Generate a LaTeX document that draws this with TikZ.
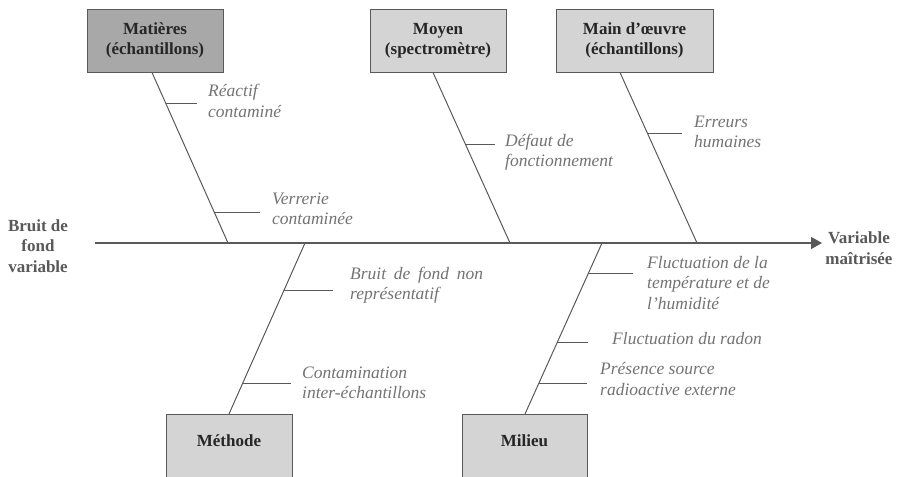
\documentclass[tikz,border=0pt]{standalone}
\usepackage{fontspec}
\setmainfont{Liberation Serif}
\usepackage{tikz}
\usetikzlibrary{arrows.meta, calc}

\definecolor{trait}{HTML}{595959}
\definecolor{gristexte}{HTML}{737373}
\definecolor{grisfonce}{HTML}{A8A8A8}
\definecolor{grisclair}{HTML}{D4D4D4}

\begin{document}
\begin{tikzpicture}[x=1pt, y=-1pt,
    cause/.style={draw=trait, line width=0.9pt, fill=grisclair, minimum width=136pt, minimum height=63pt,
        font=\fontsize{17}{20.5}\selectfont\bfseries, text=black!85, align=center, inner sep=2pt},
    titre/.style={font=\fontsize{17}{20.5}\selectfont\bfseries, text=black!85},
    bout/.style={font=\fontsize{17}{20.5}\selectfont\bfseries, text=black!65, align=center},
    arete/.style={draw=trait, line width=1pt},
    spine/.style={draw=trait, line width=1.5pt},
    lbl/.style={font=\fontsize{17.5}{20.5}\selectfont\itshape, text=gristexte, align=left, anchor=west, inner sep=0pt}]
\useasboundingbox (0,0) rectangle (898,477);
\clip (0,0) rectangle (898,477);

% les cinq familles
\node[cause, fill=grisfonce] (mat) at (155,40.5) {Matières\\(échantillons)};
\node[cause] (moy) at (438,40.5) {Moyen\\(spectromètre)};
\node[cause, minimum width=157pt] (mo) at (634.5,40.5) {Main d’œuvre\\(échantillons)};
\node[cause, anchor=north, minimum width=126pt, minimum height=80pt] (meth) at (229,414) {};
\node[titre] at ($(meth.north)+(0,27)$) {Méthode};
\node[cause, anchor=north, minimum width=125pt, minimum height=80pt] (mil) at (524.5,414) {};
\node[titre] at ($(mil.north)+(0,27)$) {Milieu};

% arete centrale
\coordinate (tail) at (95,243);
\coordinate (head) at (822,243);
\draw[spine, -{Triangle[length=11pt,width=12pt]}] (tail) -- (head);
\node[bout] (src) at (38,246) {Bruit de\\fond\\variable};
\node[bout] (dst) at (859,248) {Variable\\maîtrisée};

\coordinate (m1) at ([xshift=-3pt]mat.south);
\coordinate (m2) at ([xshift=-5pt]moy.south);
\coordinate (m3) at ([xshift=-14.5pt]mo.south);
\coordinate (m4) at (meth.north);
\coordinate (m5) at ([xshift=0.5pt]mil.north);
\coordinate (j1) at (228,243);
\coordinate (j2) at (510,243);
\coordinate (j3) at (697,243);
\coordinate (j4) at (305,243);
\coordinate (j5) at (602,243);

\draw[arete] (m1) -- (j1);
\draw[arete] (m2) -- (j2);
\draw[arete] (m3) -- (j3);
\draw[arete] (m4) -- (j4);
\draw[arete] (m5) -- (j5);

% causes secondaires
\draw[arete] ($(m1)!.18!(j1)$) -- ++(31,0);
\draw[arete] ($(m1)!.82!(j1)$) -- ++(46,0);
\draw[arete] ($(m2)!.42!(j2)$) -- ++(30,0);
\draw[arete] ($(m3)!.36!(j3)$) -- ++(34,0);
\draw[arete] ($(m4)!.725!(j4)$) -- ++(49,0);
\draw[arete] ($(m4)!.18!(j4)$) -- ++(48,0);
\draw[arete] ($(m5)!.82!(j5)$) -- ++(45,0);
\draw[arete] ($(m5)!.42!(j5)$) -- ++(31,0);
\draw[arete] ($(m5)!.18!(j5)$) -- ++(48,0);

\node[lbl] (reac) at (208,101) {Réactif\\contaminé};
\node[lbl] (verr) at (272,209) {Verrerie\\contaminée};
\node[lbl] (def) at (505,152) {Défaut de\\fonctionnement};
\node[lbl] (err) at (694,132) {Erreurs\\humaines};
\node[lbl, text width=133pt, align=justify] (bdf) at (350,285) {Bruit de fond non représentatif};
\node[lbl] (cont) at (302,383) {Contamination\\inter-échantillons};
\node[lbl] (temp) at (647,283) {Fluctuation de la\\température et de\\l’humidité};
\node[lbl] (rad) at (612,339) {Fluctuation du radon};
\node[lbl] (pres) at (600,379) {Présence source\\radioactive externe};
\end{tikzpicture}
\end{document}
